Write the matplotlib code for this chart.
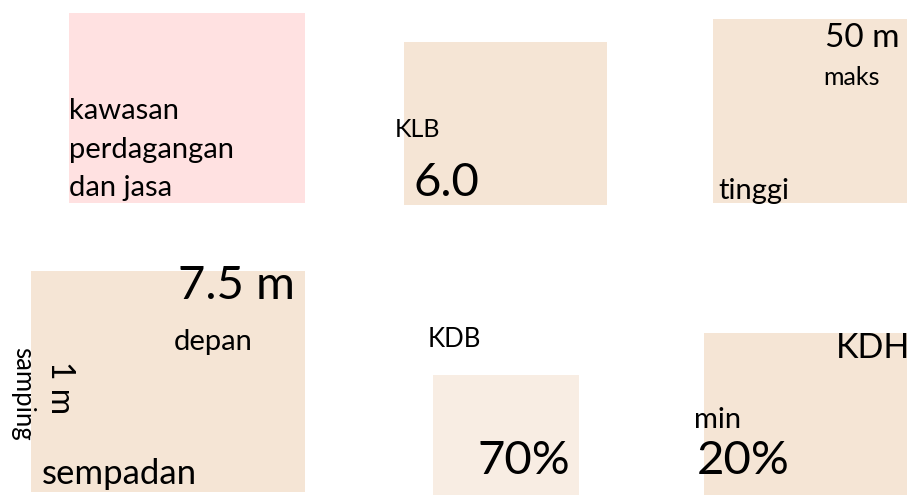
import matplotlib.pyplot as plt

plt.rcParams['font.family'] = ['Lato', 'DejaVu Sans']

# panels: label text and values
panel_names = ['kawasan', 'KLB', 'tinggi', 'sempadan', 'KDB', 'KDH']
panel_colors = ['#FFE1E1', '#F5E5D5', '#F5E5D5', '#F5E5D5', '#F8EDE3', '#F5E5D5']
# left, top, width, height in pixel units of the canvas
panel_boxes = [(69, 13, 236, 190), (404, 42, 203, 163), (713, 19, 194, 184),
               (31, 271, 274, 221), (433, 375, 146, 120), (704, 333, 203, 162)]

zone_label = 'kawasan\nperdagangan\ndan jasa'
klb_value = '6.0'
height_value = '50 m'
front_setback = '7.5 m'
side_setback = '1 m'
kdb_value = '70%'
kdh_value = '20%'

# (text, x, y, size)
texts = [
    ('kawasan', 69, 119, 21),
    ('perdagangan', 69, 158, 21),
    ('dan jasa', 69, 196, 21),
    ('KLB', 395, 137, 18),
    (klb_value, 414, 196, 34),
    (height_value, 825, 47, 24),
    ('maks', 823, 85, 18),
    ('tinggi', 718, 199, 21),
    (front_setback, 178, 299, 34),
    ('depan', 174, 350, 21),
    ('KDB', 428, 347, 18.5),
    ('KDH', 836, 358, 24.5),
    ('min', 694, 428, 21),
    (kdb_value, 478, 474, 34),
    (kdh_value, 697, 474, 34),
    ('sempadan', 42, 484, 25),
]

fig = plt.figure(figsize=(9.13, 4.95), dpi=100)
ax = fig.add_axes([0, 0, 1, 1])
ax.set_xlim(0, 913)
ax.set_ylim(495, 0)
ax.axis('off')

for (x, y, w, h), c in zip(panel_boxes, panel_colors):
    ax.bar(x, h, width=w, bottom=y, align='edge', color=c, linewidth=0)

for t, x, y, s in texts:
    ax.text(x, y, t, fontsize=s, ha='left', va='baseline', color='black')

# rotated side setback labels
ax.text(45, 361, side_setback, fontsize=23, rotation=-90, ha='left', va='top')
ax.text(10, 347, 'samping', fontsize=18.5, rotation=-90, ha='left', va='top')

fig.savefig('out.png', dpi=100)
